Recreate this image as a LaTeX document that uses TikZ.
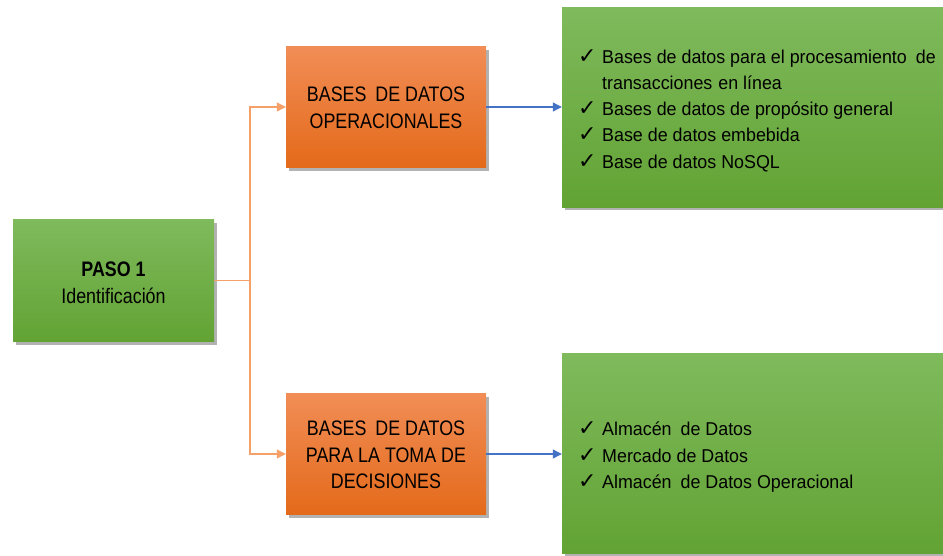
\documentclass[tikz,border=0pt]{standalone}
\usepackage{fontspec}
\setmainfont{Liberation Sans}
\newfontfamily\narrowfont[FakeStretch=0.85]{Liberation Sans}
\newfontfamily\listfont[FakeStretch=0.96]{Liberation Sans}
\newfontfamily\chkfont{DejaVu Sans}
\usetikzlibrary{arrows.meta,shadows}
\definecolor{gtop}{RGB}{127,186,92}
\definecolor{gbot}{RGB}{98,163,52}
\definecolor{otop}{RGB}{241,141,86}
\definecolor{obot}{RGB}{228,106,26}
\definecolor{oline}{RGB}{245,160,104}
\definecolor{bline}{RGB}{68,114,196}
\newcommand\chkline[1]{\makebox[24pt][l]{\chkfont\fontsize{22}{22}\selectfont ✓}#1}
\tikzset{
  boxbase/.style={rectangle, inner sep=0pt, draw=none,
    drop shadow={shadow xshift=3pt, shadow yshift=-3pt, fill=black, opacity=0.3}},
  greenbox/.style={boxbase, top color=gtop, bottom color=gbot},
  orangebox/.style={boxbase, top color=otop, bottom color=obot,
    minimum width=200pt, minimum height=121pt},
  boxtext/.style={font=\narrowfont\fontsize{21}{26.7}\selectfont, align=center, inner sep=0pt},
  listline/.style={anchor=base west, inner sep=0pt, font=\listfont\fontsize{18.6}{26}\selectfont},
  orangeconn/.style={draw=oline, line width=1.1pt, -{Triangle[length=9pt,width=9pt]}},
  blueconn/.style={draw=bline, line width=1.1pt, -{Triangle[length=9pt,width=9pt]}},
}
\begin{document}
\begin{tikzpicture}[x=1pt,y=-1pt]
\useasboundingbox (0,0) rectangle (943,555);
% boxes
\node[greenbox, minimum width=201pt, minimum height=122pt] (paso) at (113.5,280.5) {};
\node[orangebox] (op1) at (386,107) {};
\node[orangebox] (op2) at (386,454) {};
\node[greenbox, minimum width=381pt, minimum height=200pt] (g1) at (752.5,107) {};
\node[greenbox, minimum width=381pt, minimum height=200pt] (g2) at (752.5,453) {};
% box texts
\node[boxtext] (pasotxt) at (113.5,283) {\textbf{PASO 1}\\Identificación};
\node[boxtext] (op1txt) at (386,108) {BASES\hspace{4pt} DE DATOS\\OPERACIONALES};
\node[boxtext] (op2txt) at (386,455) {BASES\hspace{4pt} DE DATOS\\PARA LA TOMA DE\\DECISIONES};
% lists
\node[listline] (l1) at (578,63) {\chkline{Bases de datos para el procesamiento\hspace{9pt}de}};
\node[listline] (l2) at (602,89) {transacciones\hspace{6pt}en línea};
\node[listline] (l3) at (578,115) {\chkline{Bases de datos de propósito general}};
\node[listline] (l4) at (578,141) {\chkline{Base de datos embebida}};
\node[listline] (l5) at (578,168) {\chkline{Base de datos NoSQL}};
\node[listline] (m1) at (578,435) {\chkline{Almacén\hspace{4pt} de Datos}};
\node[listline] (m2) at (578,462) {\chkline{Mercado de Datos}};
\node[listline] (m3) at (578,488) {\chkline{Almacén\hspace{4pt} de Datos Operacional}};
% connectors
\coordinate (j) at (250,280.5);
\draw[draw=oline, line width=1.1pt] (paso.east) -- (j);
\draw[orangeconn] (j) |- (op1.west);
\draw[orangeconn] (j) |- (op2.west);
\draw[blueconn] (op1.east) -- (g1.west);
\draw[blueconn] (op2.east) -- (op2.east -| g2.west);
\end{tikzpicture}
\end{document}
